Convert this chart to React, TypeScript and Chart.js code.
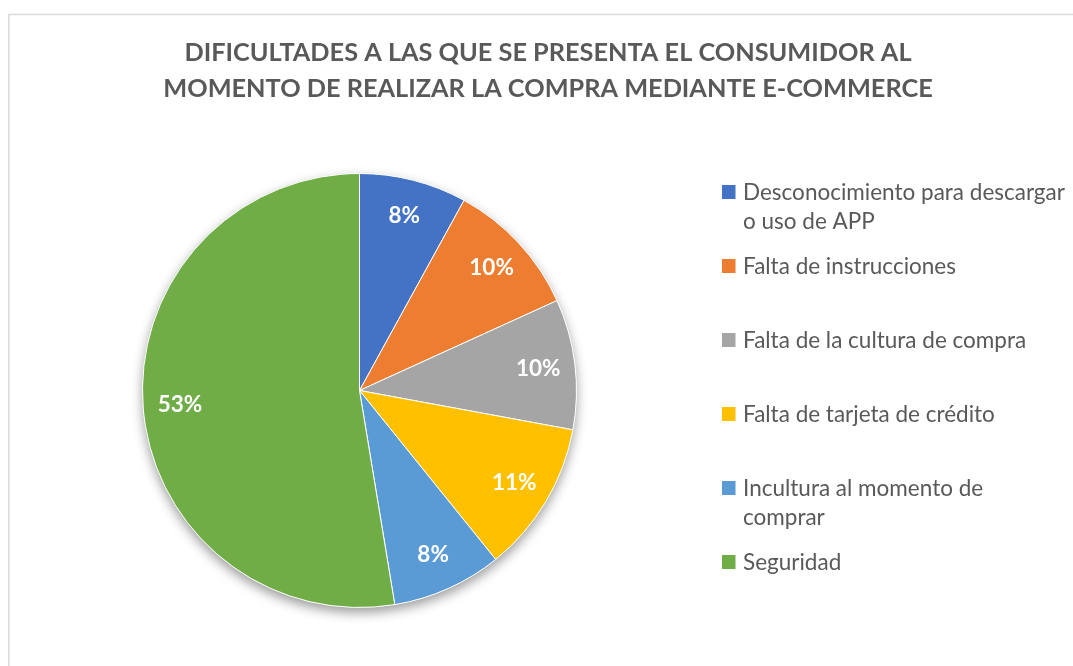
import React, { useEffect, useRef } from "react";
import { Chart, registerables } from "chart.js";

Chart.register(...registerables);

const titleLines = [
  "DIFICULTADES A LAS QUE SE PRESENTA EL CONSUMIDOR AL",
  "MOMENTO DE REALIZAR LA COMPRA MEDIANTE E-COMMERCE",
];

const categories = [
  "Desconocimiento para descargar o uso de APP",
  "Falta de instrucciones",
  "Falta de la cultura de compra",
  "Falta de tarjeta de crédito",
  "Incultura al momento de comprar",
  "Seguridad",
];

const values = [8.0, 10.2, 9.7, 11.3, 8.2, 52.6];

const colors = ["#4472C4", "#ED7D31", "#A5A5A5", "#FFC000", "#5B9BD5", "#70AD47"];

const FONT = "Lato, 'Open Sans', sans-serif";
const TEXT = "#595959";

function wrap(ctx: CanvasRenderingContext2D, text: string, maxW: number): string[] {
  const words = text.split(" ");
  const lines: string[] = [];
  let cur = "";
  for (const w of words) {
    const t = cur ? cur + " " + w : w;
    if (ctx.measureText(t).width > maxW && cur) {
      lines.push(cur);
      cur = w;
    } else cur = t;
  }
  if (cur) lines.push(cur);
  return lines;
}

const decorPlugin = {
  id: "decor",
  beforeDraw(chart: any) {
    const ctx = chart.ctx as CanvasRenderingContext2D;
    ctx.save();
    ctx.fillStyle = "#ffffff";
    ctx.fillRect(0, 0, chart.width, chart.height);
    ctx.strokeStyle = "#D9D9D9";
    ctx.lineWidth = 1.5;
    ctx.beginPath();
    ctx.moveTo(chart.width + 5, 14.5);
    ctx.lineTo(8.75, 14.5);
    ctx.lineTo(8.75, chart.height + 5);
    ctx.stroke();
    // title
    ctx.fillStyle = TEXT;
    ctx.font = `bold 25.3px ${FONT}`;
    ctx.textAlign = "center";
    ctx.textBaseline = "alphabetic";
    titleLines.forEach((l, i) => ctx.fillText(l, 548, 61 + i * 36));
    ctx.restore();
  },
  beforeDatasetsDraw(chart: any) {
    const meta = chart.getDatasetMeta(0);
    const arc = meta.data[0];
    if (!arc) return;
    const ctx = chart.ctx as CanvasRenderingContext2D;
    ctx.save();
    ctx.shadowColor = "rgba(0,0,0,0.4)";
    ctx.shadowBlur = 12;
    ctx.shadowOffsetY = 5;
    ctx.fillStyle = "#ffffff";
    ctx.beginPath();
    ctx.arc(arc.x, arc.y, arc.outerRadius, 0, Math.PI * 2);
    ctx.fill();
    ctx.restore();
  },
  afterDatasetsDraw(chart: any) {
    const ctx = chart.ctx as CanvasRenderingContext2D;
    const meta = chart.getDatasetMeta(0);
    const data = chart.data.datasets[0].data as number[];
    const total = data.reduce((a, b) => a + b, 0);
    ctx.save();
    ctx.fillStyle = "#ffffff";
    ctx.font = `bold 22.5px ${FONT}`;
    ctx.textAlign = "center";
    ctx.textBaseline = "middle";
    meta.data.forEach((a: any, i: number) => {
      const mid = (a.startAngle + a.endAngle) / 2;
      const r = a.outerRadius * 0.83;
      const x = a.x + Math.cos(mid) * r;
      const y = a.y + Math.sin(mid) * r;
      ctx.fillText(Math.round((data[i] / total) * 100) + "%", x, y);
    });
    ctx.restore();
  },
  afterDraw(chart: any) {
    const ctx = chart.ctx as CanvasRenderingContext2D;
    const labels = chart.data.labels as string[];
    const bg = chart.data.datasets[0].backgroundColor as string[];
    ctx.save();
    ctx.font = `22.5px ${FONT}`;
    ctx.textAlign = "left";
    ctx.textBaseline = "alphabetic";
    labels.forEach((lab, i) => {
      const base = 200 + i * 74;
      ctx.fillStyle = bg[i];
      ctx.fillRect(722, base - 15, 13.5, 14);
      ctx.fillStyle = TEXT;
      const lines = wrap(ctx, lab, 322);
      lines.forEach((ln, j) => ctx.fillText(ln, 743, base + j * 29));
    });
    ctx.restore();
  },
};

export default function App() {
  const ref = useRef<HTMLCanvasElement>(null);
  useEffect(() => {
    document.body.style.margin = "0";
    const chart = new Chart(ref.current!, {
      type: "pie",
      data: {
        labels: categories,
        datasets: [
          {
            data: values,
            backgroundColor: colors,
            borderColor: "#ffffff",
            borderWidth: 1,
            hoverOffset: 0,
          },
        ],
      },
      options: {
        animation: false,
        responsive: false,
        events: [],
        layout: { padding: { left: 142, top: 173, right: 496, bottom: 58 } },
        plugins: {
          legend: { display: false },
          title: { display: false },
          tooltip: { enabled: false },
        },
      },
      plugins: [decorPlugin],
    });
    return () => chart.destroy();
  }, []);
  return (
    <div style={{ width: 1073, height: 666, position: "relative" }}>
      <canvas ref={ref} width={1073} height={666} style={{ display: "block" }} />
    </div>
  );
}
